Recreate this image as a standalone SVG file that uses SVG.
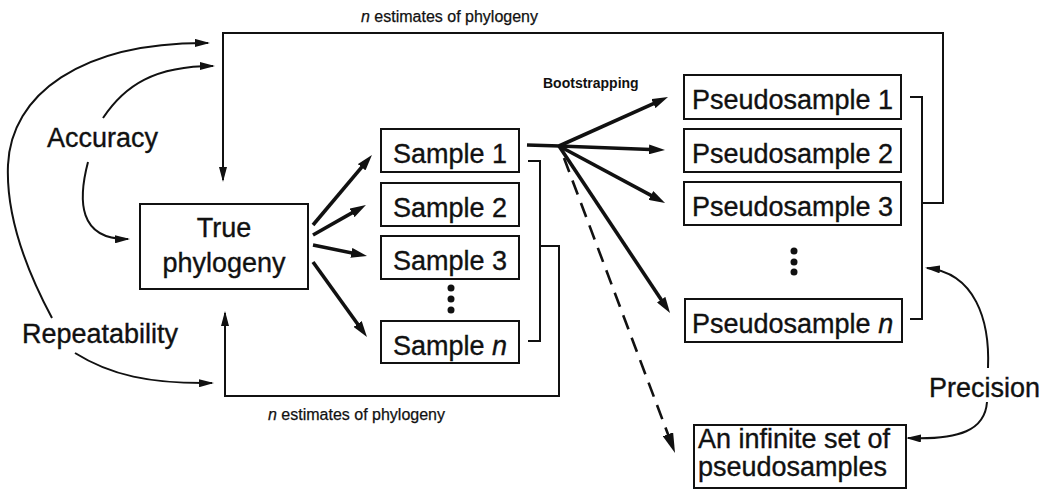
<svg xmlns="http://www.w3.org/2000/svg" width="1053" height="494" viewBox="0 0 1053 494">
  <style>
    .box { fill: #fff; stroke: #111; stroke-width: 2; }
    .lbl { font-family: "Liberation Sans", Arial, sans-serif; font-size: 27px; fill: #111; stroke: #111; stroke-width: 0.35; }
    .small { font-family: "Liberation Sans", Arial, sans-serif; font-size: 16px; fill: #111; stroke: #111; stroke-width: 0.25; }
    .boot { font-family: "Liberation Sans", Arial, sans-serif; font-size: 14px; font-weight: bold; fill: #111; }
    .wire { fill: none; stroke: #111; stroke-width: 2; }
    .thick { fill: none; stroke: #111; stroke-width: 3.6; }
    .dash { fill: none; stroke: #111; stroke-width: 2.6; stroke-dasharray: 15 9; }
    .dot { fill: #111; }
  </style>
  <defs>
    <marker id="head" markerUnits="userSpaceOnUse" viewBox="0 0 16 10" markerWidth="16" markerHeight="10" refX="8" refY="5" orient="auto">
      <path d="M0,0 L16,5 L0,10 z" fill="#111"/>
    </marker>
    <marker id="thin" markerUnits="userSpaceOnUse" viewBox="0 0 15 8" markerWidth="15" markerHeight="8" refX="13" refY="4" orient="auto">
      <path d="M0,0 L15,4 L0,8 z" fill="#111"/>
    </marker>
    <marker id="bighead" markerUnits="userSpaceOnUse" viewBox="0 0 20 11" markerWidth="20" markerHeight="11" refX="10" refY="5.5" orient="auto">
      <path d="M0,0 L20,5.5 L0,11 z" fill="#111"/>
    </marker>
  </defs>

  <!-- connectors -->
  <g id="connectors">
    <!-- top feedback bracket: pseudosamples back to true phylogeny -->
    <path class="wire" d="M910,97 H922 V319 H910 M922,203 H943 V33 H223 V180" marker-end="url(#thin)"/>
    <!-- bottom feedback bracket: samples back to true phylogeny -->
    <path class="wire" d="M528,161 H540 V341 H528 M540,246 H559 V396 H225 V313" marker-end="url(#thin)"/>

    <!-- sampling arrows -->
    <line class="thick" x1="313" y1="225" x2="366.8" y2="161.1" marker-end="url(#head)"/>
    <line class="thick" x1="313" y1="235" x2="359.0" y2="208.9" marker-end="url(#head)"/>
    <line class="thick" x1="313" y1="245" x2="359.2" y2="254.4" marker-end="url(#head)"/>
    <line class="thick" x1="313" y1="262" x2="362.3" y2="330.5" marker-end="url(#head)"/>

    <!-- bootstrapping fan -->
    <line class="thick" x1="527" y1="145" x2="560" y2="146"/>
    <line class="thick" x1="559" y1="146" x2="660.7" y2="100.3" marker-end="url(#head)"/>
    <line class="thick" x1="559" y1="146" x2="657.0" y2="149.7" marker-end="url(#head)"/>
    <line class="thick" x1="559" y1="146" x2="658.0" y2="199.2" marker-end="url(#head)"/>
    <line class="thick" x1="559" y1="146" x2="665.6" y2="306.3" marker-end="url(#head)"/>
    <line class="dash" x1="564" y1="158" x2="671.5" y2="443.6" marker-end="url(#bighead)"/>

    <!-- accuracy / repeatability / precision curves -->
    <path class="wire" d="M103,118 C125,85 155,66 213,66" marker-end="url(#thin)"/>
    <path class="wire" d="M88,162 C78,200 78,240 128,239" marker-end="url(#thin)"/>
    <path class="wire" d="M52,318 C22,262 6,212 8,165 C11,95 80,42 208,43" marker-end="url(#thin)"/>
    <path class="wire" d="M75,353 C110,375 150,384 212,383" marker-end="url(#thin)"/>
    <path class="wire" d="M988,368 C990,320 975,273 927,268" marker-end="url(#thin)"/>
    <path class="wire" d="M987,402 C985,430 960,440 908,438" marker-end="url(#thin)"/>
  </g>

  <!-- edge labels -->
  <text class="small" x="361" y="22"><tspan font-style="italic">n</tspan> estimates of phylogeny</text>
  <text class="small" x="268" y="420"><tspan font-style="italic">n</tspan> estimates of phylogeny</text>
  <text class="boot" x="543" y="88">Bootstrapping</text>
  <text class="lbl" x="47" y="147">Accuracy</text>
  <text class="lbl" x="22" y="343">Repeatability</text>
  <text class="lbl" x="929" y="397">Precision</text>

  <g id="true-phylogeny">
    <rect class="box" x="140" y="204" width="168" height="85"/>
    <text class="lbl" x="224" y="237" text-anchor="middle">True</text>
    <text class="lbl" x="224" y="272" text-anchor="middle">phylogeny</text>
  </g>

  <g id="sample-1">
    <rect class="box" x="381" y="129" width="138" height="43"/>
    <text class="lbl" x="393" y="163">Sample 1</text>
  </g>
  <g id="sample-2">
    <rect class="box" x="381" y="183" width="138" height="43"/>
    <text class="lbl" x="393" y="217">Sample 2</text>
  </g>
  <g id="sample-3">
    <rect class="box" x="381" y="236" width="138" height="43"/>
    <text class="lbl" x="393" y="270">Sample 3</text>
  </g>
  <g id="sample-dots">
    <circle class="dot" cx="451" cy="288" r="3.5"/>
    <circle class="dot" cx="451" cy="299" r="3.5"/>
    <circle class="dot" cx="451" cy="310" r="3.5"/>
  </g>
  <g id="sample-n">
    <rect class="box" x="381" y="321" width="138" height="42"/>
    <text class="lbl" x="393" y="355">Sample <tspan font-style="italic">n</tspan></text>
  </g>

  <g id="pseudosample-1">
    <rect class="box" x="684" y="75" width="217" height="44"/>
    <text class="lbl" x="692" y="109">Pseudosample 1</text>
  </g>
  <g id="pseudosample-2">
    <rect class="box" x="684" y="129" width="217" height="43"/>
    <text class="lbl" x="692" y="163">Pseudosample 2</text>
  </g>
  <g id="pseudosample-3">
    <rect class="box" x="684" y="182" width="217" height="43"/>
    <text class="lbl" x="692" y="216">Pseudosample 3</text>
  </g>
  <g id="pseudosample-dots">
    <circle class="dot" cx="794" cy="251" r="3.5"/>
    <circle class="dot" cx="794" cy="262" r="3.5"/>
    <circle class="dot" cx="794" cy="272" r="3.5"/>
  </g>
  <g id="pseudosample-n">
    <rect class="box" x="685" y="299" width="217" height="43"/>
    <text class="lbl" x="692" y="333">Pseudosample <tspan font-style="italic">n</tspan></text>
  </g>

  <g id="infinite-set">
    <rect class="box" x="694" y="425" width="212" height="63"/>
    <text class="lbl" x="698" y="448">An infinite set of</text>
    <text class="lbl" x="698" y="476">pseudosamples</text>
  </g>
</svg>
